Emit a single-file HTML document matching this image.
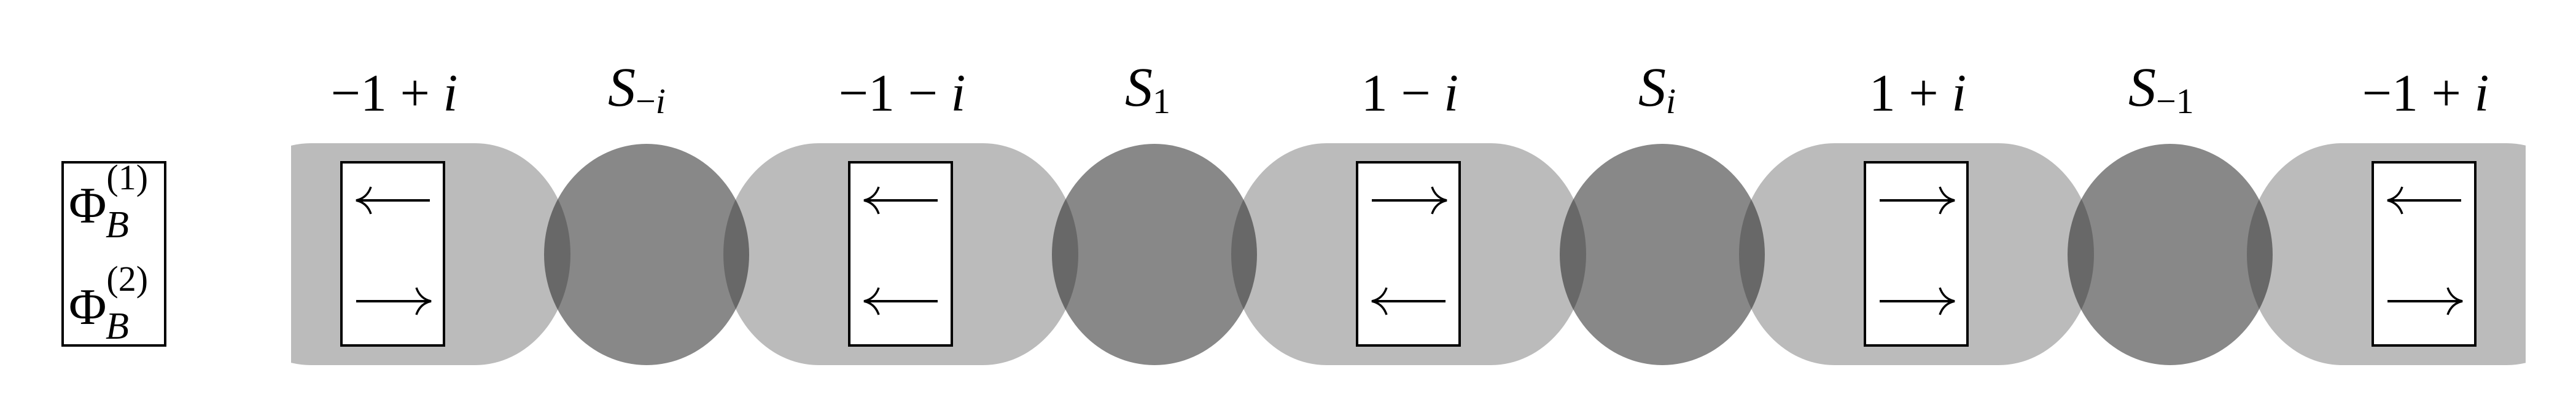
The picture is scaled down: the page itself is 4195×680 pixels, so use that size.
<!DOCTYPE html>
<html><head><meta charset="utf-8"><style>
html,body{margin:0;padding:0;background:#fff;}
svg{display:block}
text,tspan{font-family:"Liberation Serif","DejaVu Serif",serif;fill:#000}
</style></head><body>
<svg width="4195" height="680" viewBox="0 0 4195 680" xmlns="http://www.w3.org/2000/svg" font-family="Liberation Serif, DejaVu Serif, serif">
<defs>
<clipPath id="c"><rect x="474" y="0" width="3639" height="680"/></clipPath>
<g id="ra"><line x1="0" y1="0" x2="118" y2="0" stroke="#000" stroke-width="4"/><path d="M98,-22 Q104,-4 122,0 Q104,4 98,22" fill="none" stroke="#000" stroke-width="3.5"/></g>
<g id="la"><line x1="2" y1="0" x2="120" y2="0" stroke="#000" stroke-width="4"/><path d="M24,-22 Q18,-4 0,0 Q18,4 24,22" fill="none" stroke="#000" stroke-width="3.5"/></g>
</defs>
<g clip-path="url(#c)" fill="#bbbbbb">
<rect x="351" y="233" width="578" height="361" rx="155" ry="180"/>
<rect x="1178" y="233" width="578" height="361" rx="155" ry="180"/>
<rect x="2005" y="233" width="578" height="361" rx="155" ry="180"/>
<rect x="2832" y="233" width="578" height="361" rx="155" ry="180"/>
<rect x="3659" y="233" width="578" height="361" rx="155" ry="180"/>
</g>
<g fill="rgb(30,30,30)" fill-opacity="0.53">
<ellipse cx="1053" cy="414" rx="167" ry="180"/>
<ellipse cx="1880" cy="414" rx="167" ry="180"/>
<ellipse cx="2707" cy="414" rx="167" ry="180"/>
<ellipse cx="3534" cy="414" rx="167" ry="180"/>
</g>
<g fill="#fff" stroke="#000" stroke-width="4">
<rect x="102" y="264" width="167" height="298"/>
<rect x="556" y="264" width="167" height="298"/>
<rect x="1383" y="264" width="167" height="298"/>
<rect x="2210" y="264" width="167" height="298"/>
<rect x="3037" y="264" width="167" height="298"/>
<rect x="3864" y="264" width="167" height="298"/>
</g>
<use href="#la" x="580" y="326"/><use href="#ra" x="580" y="490"/>
<use href="#la" x="1407" y="326"/><use href="#la" x="1407" y="490"/>
<use href="#ra" x="2234" y="326"/><use href="#la" x="2234" y="490"/>
<use href="#ra" x="3061" y="326"/><use href="#ra" x="3061" y="490"/>
<use href="#la" x="3888" y="326"/><use href="#ra" x="3888" y="490"/>
<text x="112" y="362" font-size="84">Φ<tspan font-size="58" dy="-54">(1)</tspan><tspan font-size="62" font-style="italic" x="172" dy="78">B</tspan></text>
<text x="112" y="527" font-size="84">Φ<tspan font-size="58" dy="-54">(2)</tspan><tspan font-size="62" font-style="italic" x="172" dy="78">B</tspan></text>
<g font-size="86" text-anchor="middle" font-weight="300">
<text x="642" y="180">−1 + <tspan font-style="italic">i</tspan></text>
<text x="1469" y="180">−1 − <tspan font-style="italic">i</tspan></text>
<text x="2296" y="180">1 − <tspan font-style="italic">i</tspan></text>
<text x="3123" y="180">1 + <tspan font-style="italic">i</tspan></text>
<text x="3950" y="180">−1 + <tspan font-style="italic">i</tspan></text>
</g>
<g font-size="90" font-style="italic">
<text x="990" y="172">S<tspan font-size="58" font-style="normal" dy="12">−</tspan><tspan font-size="58" font-style="italic">i</tspan></text>
<text x="1832" y="172">S<tspan font-size="58" font-style="normal" dy="12">1</tspan></text>
<text x="2668" y="172">S<tspan font-size="58" font-style="italic" dy="12">i</tspan></text>
<text x="3466" y="172">S<tspan font-size="58" font-style="normal" dy="12">−1</tspan></text>
</g>
</svg>
</body></html>
